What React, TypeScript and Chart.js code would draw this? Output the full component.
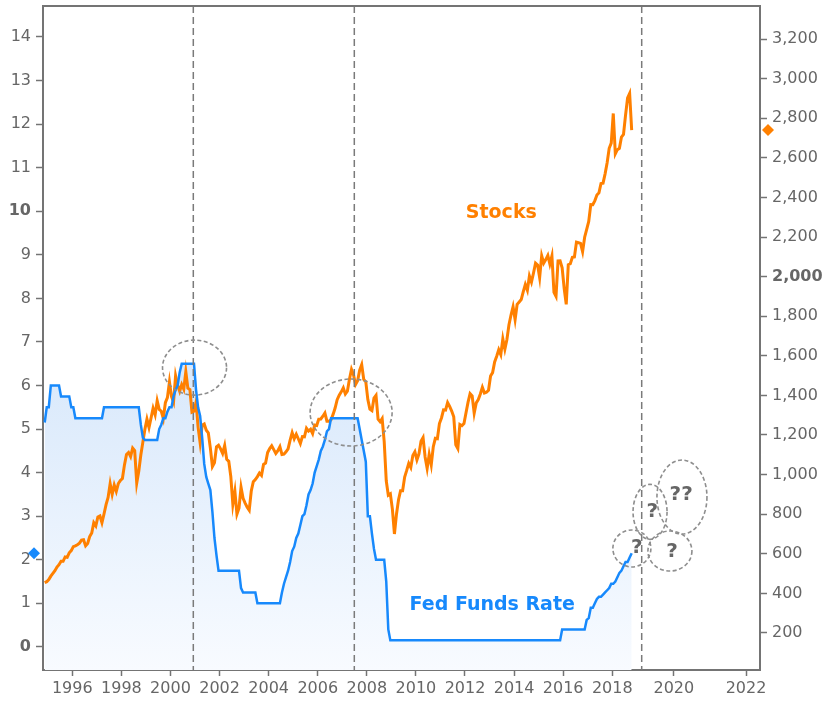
import React, { useEffect, useRef } from 'react';
import { Chart, registerables } from 'chart.js';

Chart.register(...registerables);

// Monthly series, first value = November 1994, last value = October 2018
const START_YEAR = 1994;
const START_MONTH = 10; // 0-based: November

// S&P 500 ("Stocks"), right axis
const stocks = [
  454, 459,
  470, 487, 501, 515, 533, 545, 562, 562, 584, 582, 605, 616,
  636, 640, 646, 654, 669, 671, 640, 652, 687, 705, 757, 741,
  786, 791, 757, 801, 848, 885, 954, 900, 947, 915, 955, 970,
  980, 1049, 1102, 1112, 1091, 1134, 1121, 957, 1017, 1099, 1164, 1229,
  1280, 1238, 1286, 1335, 1302, 1373, 1329, 1320, 1283, 1363, 1389, 1469,
  1394, 1366, 1499, 1452, 1421, 1455, 1431, 1520, 1437, 1429, 1315, 1320,
  1366, 1240, 1160, 1250, 1256, 1224, 1211, 1134, 1041, 1060, 1140, 1148,
  1130, 1107, 1147, 1077, 1067, 990, 850, 916, 800, 830, 936, 880,
  856, 835, 820, 917, 964, 975, 990, 1008, 996, 1051, 1058, 1112,
  1131, 1145, 1126, 1107, 1121, 1141, 1102, 1104, 1115, 1130, 1174, 1212,
  1181, 1204, 1181, 1157, 1192, 1191, 1234, 1220, 1229, 1207, 1250, 1248,
  1280, 1281, 1295, 1311, 1270, 1270, 1277, 1304, 1336, 1378, 1401, 1418,
  1438, 1407, 1421, 1482, 1531, 1503, 1455, 1474, 1527, 1555, 1481, 1468,
  1379, 1331, 1323, 1386, 1400, 1280, 1267, 1283, 1166, 969, 896, 903,
  826, 700, 800, 873, 919, 919, 988, 1021, 1057, 1036, 1096, 1115,
  1074, 1105, 1169, 1187, 1089, 1031, 1102, 1049, 1141, 1183, 1181, 1258,
  1286, 1327, 1326, 1364, 1345, 1321, 1292, 1150, 1131, 1253, 1247, 1258,
  1312, 1366, 1409, 1398, 1310, 1362, 1379, 1407, 1441, 1412, 1416, 1426,
  1498, 1515, 1569, 1598, 1631, 1606, 1686, 1633, 1682, 1757, 1806, 1848,
  1783, 1860, 1872, 1884, 1924, 1960, 1931, 2003, 1972, 2018, 2068, 2059,
  1995, 2105, 2068, 2086, 2107, 2063, 2104, 1920, 1900, 2079, 2080, 2044,
  1940, 1860, 2060, 2065, 2097, 2099, 2174, 2171, 2168, 2126, 2199, 2239,
  2279, 2364, 2363, 2384, 2412, 2423, 2470, 2472, 2519, 2575, 2648, 2674,
  2824, 2620, 2641, 2648, 2705, 2718, 2816, 2902, 2925, 2740,
];

// Fed Funds Rate (%), left axis
const fedFunds = [
  5.15, 5.5,
  5.5, 6.0, 6.0, 6.0, 6.0, 6.0, 5.75, 5.75, 5.75, 5.75, 5.75, 5.5,
  5.5, 5.25, 5.25, 5.25, 5.25, 5.25, 5.25, 5.25, 5.25, 5.25, 5.25, 5.25,
  5.25, 5.25, 5.25, 5.5, 5.5, 5.5, 5.5, 5.5, 5.5, 5.5, 5.5, 5.5,
  5.5, 5.5, 5.5, 5.5, 5.5, 5.5, 5.5, 5.5, 5.5, 5.1, 4.8, 4.75,
  4.75, 4.75, 4.75, 4.75, 4.75, 4.75, 5.0, 5.1, 5.25, 5.25, 5.4, 5.5,
  5.5, 5.75, 5.9, 6.0, 6.3, 6.5, 6.5, 6.5, 6.5, 6.5, 6.5, 6.5,
  5.9, 5.5, 5.3, 4.8, 4.2, 3.9, 3.75, 3.6, 3.1, 2.5, 2.1, 1.75,
  1.75, 1.75, 1.75, 1.75, 1.75, 1.75, 1.75, 1.75, 1.75, 1.75, 1.35, 1.25,
  1.25, 1.25, 1.25, 1.25, 1.25, 1.25, 1.0, 1.0, 1.0, 1.0, 1.0, 1.0,
  1.0, 1.0, 1.0, 1.0, 1.0, 1.0, 1.25, 1.45, 1.6, 1.75, 1.95, 2.2,
  2.3, 2.5, 2.6, 2.8, 3.0, 3.05, 3.25, 3.5, 3.6, 3.75, 4.0, 4.15,
  4.3, 4.5, 4.6, 4.75, 4.95, 5.0, 5.25, 5.25, 5.25, 5.25, 5.25, 5.25,
  5.25, 5.25, 5.25, 5.25, 5.25, 5.25, 5.25, 5.25, 5.0, 4.75, 4.5, 4.25,
  3.0, 3.0, 2.6, 2.25, 2.0, 2.0, 2.0, 2.0, 2.0, 1.5, 0.4, 0.15,
  0.15, 0.15, 0.15, 0.15, 0.15, 0.15, 0.15, 0.15, 0.15, 0.15, 0.15, 0.15,
  0.15, 0.15, 0.15, 0.15, 0.15, 0.15, 0.15, 0.15, 0.15, 0.15, 0.15, 0.15,
  0.15, 0.15, 0.15, 0.15, 0.15, 0.15, 0.15, 0.15, 0.15, 0.15, 0.15, 0.15,
  0.15, 0.15, 0.15, 0.15, 0.15, 0.15, 0.15, 0.15, 0.15, 0.15, 0.15, 0.15,
  0.15, 0.15, 0.15, 0.15, 0.15, 0.15, 0.15, 0.15, 0.15, 0.15, 0.15, 0.15,
  0.15, 0.15, 0.15, 0.15, 0.15, 0.15, 0.15, 0.15, 0.15, 0.15, 0.15, 0.15,
  0.15, 0.15, 0.15, 0.15, 0.15, 0.15, 0.15, 0.15, 0.15, 0.15, 0.15, 0.4,
  0.4, 0.4, 0.4, 0.4, 0.4, 0.4, 0.4, 0.4, 0.4, 0.4, 0.4, 0.62,
  0.66, 0.9, 0.9, 1.0, 1.1, 1.15, 1.15, 1.2, 1.25, 1.3, 1.35, 1.45,
  1.45, 1.5, 1.6, 1.7, 1.75, 1.85, 1.95, 1.95, 2.05, 2.15,
];

// Axis ticks
const xTickValues = [1996, 1998, 2000, 2002, 2004, 2006, 2008, 2010, 2012, 2014, 2016, 2018, 2020.51, 2023.45];
const xTickLabels = ['1996', '1998', '2000', '2002', '2004', '2006', '2008', '2010', '2012', '2014', '2016', '2018', '2020', '2022'];
const leftTicks = [0, 1, 2, 3, 4, 5, 6, 7, 8, 9, 10, 11, 12, 13, 14];
const rightTicks = [200, 400, 600, 800, 1000, 1200, 1400, 1600, 1800, 2000, 2200, 2400, 2600, 2800, 3000, 3200];
const leftBoldTicks = [0, 10];
const rightBoldTicks = [2000];

// Annotations (data coordinates: year, left-axis value)
const eventLines = [2000.93, 2007.49, 2019.2];
const circleCenters = [
  { x: 2000.98, y: 6.41 },
  { x: 2007.36, y: 5.38 },
  { x: 2018.8, y: 2.26 },
  { x: 2019.54, y: 3.1 },
  { x: 2020.84, y: 3.44 },
  { x: 2020.35, y: 2.2 },
];
const circleRadii = [
  [32, 27.5],
  [41, 33.5],
  [19, 18.5],
  [17, 27.5],
  [25, 37],
  [22, 20],
];
const questionTexts = [
  { x: 2019.0, y: 2.27, t: '?' },
  { x: 2019.63, y: 3.1, t: '?' },
  { x: 2020.81, y: 3.5, t: '??' },
  { x: 2020.44, y: 2.18, t: '?' },
];
const seriesLabels = [
  { x: 2013.48, y: 9.96, t: 'Stocks', color: '#ff8000' },
  { x: 2013.11, y: 0.95, t: 'Fed Funds Rate', color: '#1789fc' },
];

const FONT = '"DejaVu Sans", Verdana, sans-serif';
const BLUE = '#1789fc';
const ORANGE = '#ff8000';
const AXIS = '#747474';

const monthX = (i: number) => START_YEAR + (START_MONTH + i + 0.5) / 12;

const overlayPlugin = {
  id: 'overlay',
  afterDatasetsDraw(chart: any) {
    const { ctx, chartArea: a, scales } = chart;
    const xs = scales.x;
    const ys = scales.y;
    ctx.save();
    ctx.beginPath();
    ctx.rect(a.left, a.top, a.right - a.left, a.bottom - a.top);
    ctx.clip();

    ctx.strokeStyle = '#7a7a7a';
    ctx.lineWidth = 1.5;
    ctx.setLineDash([7, 4]);
    for (const v of eventLines) {
      const px = xs.getPixelForValue(v);
      ctx.beginPath();
      ctx.moveTo(px, a.top);
      ctx.lineTo(px, a.bottom);
      ctx.stroke();
    }

    ctx.strokeStyle = '#8e8e8e';
    ctx.lineWidth = 1.6;
    ctx.setLineDash([4, 2.5]);
    circleCenters.forEach((c, i) => {
      ctx.beginPath();
      ctx.ellipse(xs.getPixelForValue(c.x), ys.getPixelForValue(c.y), circleRadii[i][0], circleRadii[i][1], 0, 0, Math.PI * 2);
      ctx.stroke();
    });
    ctx.setLineDash([]);

    ctx.textAlign = 'center';
    ctx.textBaseline = 'middle';
    ctx.fillStyle = '#666666';
    ctx.font = `bold 20px ${FONT}`;
    for (const q of questionTexts) {
      ctx.fillText(q.t, xs.getPixelForValue(q.x), ys.getPixelForValue(q.y));
    }

    ctx.font = `bold 19px ${FONT}`;
    for (const l of seriesLabels) {
      ctx.fillStyle = l.color;
      ctx.fillText(l.t, xs.getPixelForValue(l.x), ys.getPixelForValue(l.y));
    }
    ctx.restore();
  },
  afterDraw(chart: any) {
    const { ctx, chartArea: a, scales } = chart;
    ctx.save();
    // top border of the plot box
    ctx.strokeStyle = AXIS;
    ctx.lineWidth = 2;
    ctx.beginPath();
    ctx.moveTo(a.left - 1, a.top);
    ctx.lineTo(a.right + 1, a.top);
    ctx.stroke();

    const diamond = (cx: number, cy: number, r: number, color: string) => {
      ctx.fillStyle = color;
      ctx.beginPath();
      ctx.moveTo(cx, cy - r);
      ctx.lineTo(cx + r, cy);
      ctx.lineTo(cx, cy + r);
      ctx.lineTo(cx - r, cy);
      ctx.closePath();
      ctx.fill();
    };
    diamond(a.left - 9, scales.y.getPixelForValue(fedFunds[fedFunds.length - 1]), 6, BLUE);
    diamond(a.right + 8, scales.y2.getPixelForValue(stocks[stocks.length - 1]), 6, ORANGE);
    ctx.restore();
  },
};

function zeroPad(s: any) {
  s.paddingTop = 0;
  s.paddingBottom = 0;
  s.paddingLeft = 0;
  s.paddingRight = 0;
}

export default function App() {
  const ref = useRef<HTMLCanvasElement>(null);

  useEffect(() => {
    const fedData = fedFunds.map((v, i) => ({ x: monthX(i), y: v }));
    const stockData = stocks.map((v, i) => ({ x: monthX(i), y: v }));

    const tickFont = (bold: number[]) => (c: any) => ({
      family: FONT,
      size: 16,
      weight: c.tick && bold.includes(c.tick.value) ? 'bold' : 'normal',
    });

    const chart = new Chart(ref.current as HTMLCanvasElement, {
      type: 'line',
      data: {
        datasets: [
          {
            label: 'Fed Funds Rate',
            data: fedData,
            yAxisID: 'y',
            borderColor: BLUE,
            borderWidth: 2.5,
            pointRadius: 0,
            tension: 0,
            fill: 'start',
            backgroundColor: (c: any) => {
              const ch = c.chart;
              const a = ch.chartArea;
              if (!a) return 'rgba(220,235,251,1)';
              const top = ch.scales.y.getPixelForValue(6.6);
              const g = ch.ctx.createLinearGradient(0, top, 0, a.bottom);
              g.addColorStop(0, '#d8e8fb');
              g.addColorStop(1, '#f8fbff');
              return g;
            },
          },
          {
            label: 'Stocks',
            data: stockData,
            yAxisID: 'y2',
            borderColor: ORANGE,
            borderWidth: 3,
            pointRadius: 0,
            tension: 0,
            fill: false,
          },
        ],
      },
      options: {
        responsive: false,
        animation: false,
        events: [],
        layout: { padding: { top: 6, left: 0, right: 0, bottom: 0 } },
        plugins: {
          legend: { display: false },
          tooltip: { enabled: false },
          filler: { drawTime: 'beforeDatasetsDraw' },
        },
        scales: {
          x: {
            type: 'linear',
            min: 1994.806,
            max: 2024.02,
            afterFit: (s: any) => { s.height = 32; zeroPad(s); },
            afterBuildTicks: (s: any) => { s.ticks = xTickValues.map((v) => ({ value: v })); },
            grid: { drawOnChartArea: false, tickLength: 6, color: AXIS, tickWidth: 1.5 },
            border: { display: true, color: AXIS, width: 2 },
            ticks: {
              autoSkip: false,
              maxRotation: 0,
              padding: 3,
              color: '#666666',
              font: { family: FONT, size: 16 },
              callback: (_v: any, i: number) => xTickLabels[i],
            },
          },
          y: {
            type: 'linear',
            position: 'left',
            min: -0.53,
            max: 14.71,
            afterFit: (s: any) => { s.width = 43; zeroPad(s); },
            afterBuildTicks: (s: any) => { s.ticks = leftTicks.map((v) => ({ value: v })); },
            grid: { drawOnChartArea: false, tickLength: 7, color: AXIS, tickWidth: 1.5 },
            border: { display: true, color: AXIS, width: 2 },
            ticks: {
              padding: 5,
              color: '#666666',
              font: tickFont(leftBoldTicks),
              callback: (v: any) => String(v),
            },
          },
          y2: {
            type: 'linear',
            position: 'right',
            min: 13.1,
            max: 3366.7,
            afterFit: (s: any) => { s.width = 65; zeroPad(s); },
            afterBuildTicks: (s: any) => { s.ticks = rightTicks.map((v) => ({ value: v })); },
            grid: { drawOnChartArea: false, tickLength: 7, color: AXIS, tickWidth: 1.5 },
            border: { display: true, color: AXIS, width: 2 },
            ticks: {
              padding: 5,
              color: '#666666',
              font: tickFont(rightBoldTicks),
              callback: (v: any) => Number(v).toLocaleString('en-US'),
            },
          },
        },
      } as any,
      plugins: [overlayPlugin],
    });
    return () => chart.destroy();
  }, []);

  return (
    <div style={{ position: 'absolute', left: 0, top: 0, width: 825, height: 702, background: '#ffffff' }}>
      <canvas ref={ref} width={825} height={702} style={{ display: 'block' }} />
    </div>
  );
}
